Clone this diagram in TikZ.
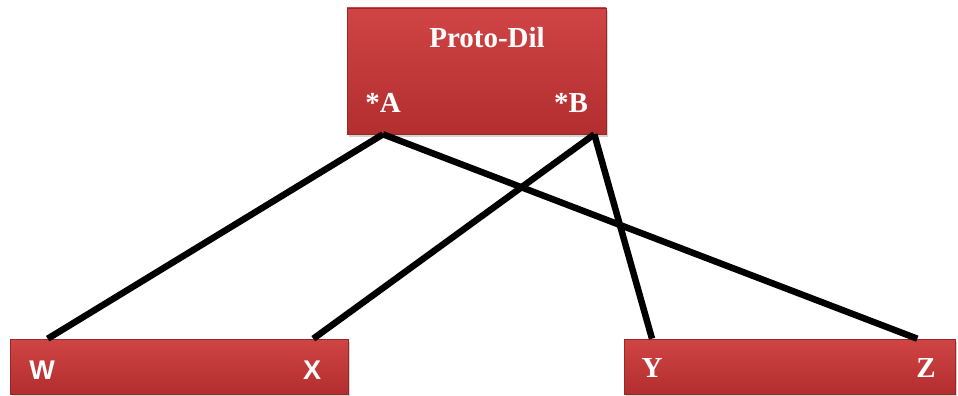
\documentclass[tikz,border=0pt]{standalone}
\usepackage{fontspec}
\setmainfont{Liberation Serif}
\setsansfont{Liberation Sans}
\usetikzlibrary{shadows}

\definecolor{boxtop}{HTML}{D04444}
\definecolor{boxbot}{HTML}{B32E2F}

\tikzset{
  redbox/.style = {rectangle, inner sep = 0pt, top color = boxtop, bottom color = boxbot,
    draw = boxbot!85!black, line width = 0.6pt,
    drop shadow = {shadow xshift = 1.5pt, shadow yshift = -3pt, opacity = 0.35}},
  boxtext/.style = {text = white, font = \bfseries\fontsize{29}{32}\selectfont},
  sanstext/.style = {boxtext, font = \sffamily\bfseries\fontsize{27}{30}\selectfont},
  link/.style = {line width = 6.5pt, black}
}

\begin{document}
\begin{tikzpicture}[x = 1pt, y = -1pt]
\useasboundingbox (0, 0) rectangle (958, 396);

\node[redbox, minimum width = 259pt, minimum height = 126pt] (proto) at (476.5, 71) {};
\node[redbox, minimum width = 338pt, minimum height = 55pt] (left) at (179, 366.5) {};
\node[redbox, minimum width = 331pt, minimum height = 55pt] (right) at (789.5, 366.5) {};

\node[boxtext] (title) at (487, 38) {Proto-Dil};
\node[boxtext] (a) at (383, 103) {*A};
\node[boxtext] (b) at (571, 103) {*B};
\node[sanstext] (w) at (42, 370) {W};
\node[sanstext] (x) at (312, 370) {X};
\node[boxtext] (y) at (652, 368) {Y};
\node[boxtext] (z) at (926, 368) {Z};

% connectors
\coordinate (aout) at (proto.south -| a);
\coordinate (bout) at ([xshift = -12pt]proto.south east);
\coordinate (win) at ([xshift = 38pt]left.north west);
\coordinate (xin) at ([xshift = -35pt]left.north east);
\coordinate (yin) at (right.north -| y);
\coordinate (zin) at ([xshift = -38pt]right.north east);

\draw[link] (aout) -- (win);
\draw[link] (aout) -- (zin);
\draw[link] (bout) -- (xin);
\draw[link] (bout) -- (yin);
\end{tikzpicture}
\end{document}
